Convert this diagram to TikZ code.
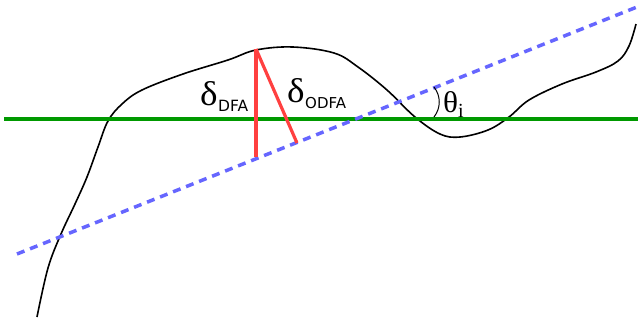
\documentclass[tikz,border=0pt]{standalone}
\usepackage{fontspec}
\newfontfamily\serifG{Liberation Serif}
\newfontfamily\sansL{DejaVu Sans}
\definecolor{lgreen}{RGB}{0,153,0}
\definecolor{lred}{RGB}{255,64,64}
\definecolor{lblue}{RGB}{102,102,255}
\begin{document}
\begin{tikzpicture}[x=1pt,y=-1pt,
  curve/.style={black,line width=1.6pt,line join=round},
  baseline/.style={lgreen,line width=3.5pt},
  fitline/.style={lblue,line width=3.5pt,dash pattern=on 8pt off 6pt},
  dist/.style={lred,line width=3.2pt},
  lbl/.style={inner sep=0pt,anchor=base west}]
\useasboundingbox (0,0) rectangle (638,325);
% curve
\draw[curve] plot[smooth,tension=0.6] coordinates {
 (37,317) (48,268) (61,234) (75,204) (87,177) (98,147) (108,121) (122,104)
 (142,90) (183,74) (228,60) (256,50) (293,47) (334,53) (358,67) (387,90)
 (415,117) (440,134) (460,137) (488,130) (509,117) (529,100) (562,84)
 (596,72) (618,61) (629,46) (636,24)};
% horizontal line
\coordinate (hL) at (4,119);
\coordinate (hR) at (638,119);
\draw[baseline] (hL) -- (hR);
% dashed fit line
\coordinate (fL) at (17,254);
\coordinate (fR) at (637,7);
\draw[fitline] (fL) -- (fR);
% distances
\coordinate (peak) at (256,49);
\coordinate (vfoot) at (256,157);
\coordinate (ofoot) at (297,143);
\draw[dist] (peak) -- (vfoot);
\draw[dist] (peak) -- (ofoot);
% angle mark
\coordinate (a1) at (434,87);
\coordinate (a2) at (434,117);
\draw[black,line width=1pt] (a1) .. controls (441,96) and (441,108) .. (a2);
% labels
\node[lbl] (d1) at (200,105) {\resizebox{17.5pt}{24pt}{\serifG δ}};
\node[lbl] (d1s) at (218,111) {\fontsize{15.5pt}{17pt}\selectfont\sansL DFA};
\node[lbl] (d2) at (287,102) {\resizebox{17.5pt}{24pt}{\serifG δ}};
\node[lbl] (d2s) at (305,108) {\fontsize{15pt}{17pt}\selectfont\sansL ODFA};
\node[lbl] (th) at (443,112) {\resizebox{15pt}{21pt}{\serifG θ}};
\node[lbl] (ths) at (458,117) {\fontsize{20pt}{22pt}\selectfont\serifG i};
\end{tikzpicture}
\end{document}
